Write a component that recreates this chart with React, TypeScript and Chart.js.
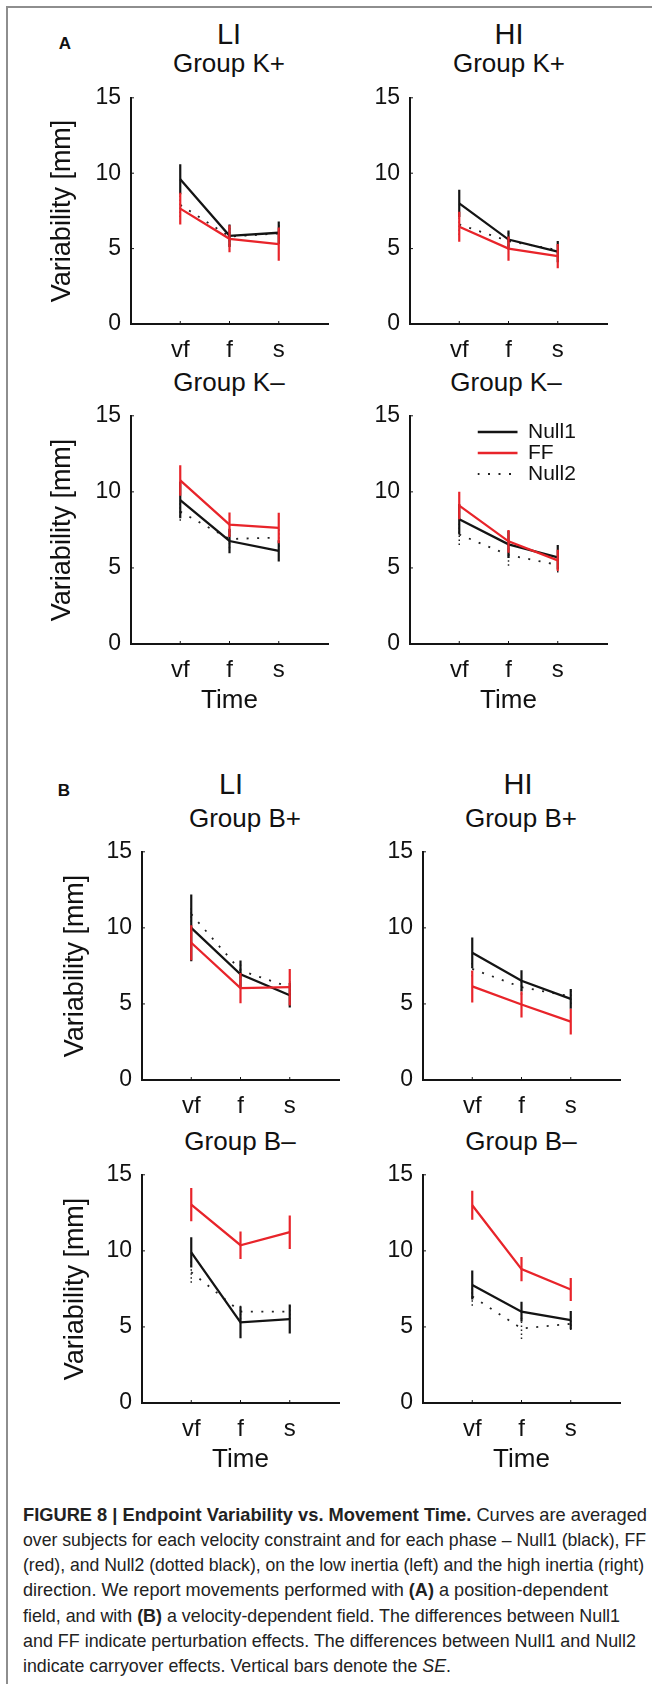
import React, { useEffect, useLayoutEffect, useRef } from 'react';
import { Chart, registerables } from 'chart.js';

Chart.register(...registerables);
Chart.defaults.font.family = "'Liberation Sans', Arial, Helvetica, sans-serif";
Chart.defaults.color = '#111';

// ---------- shared categories / ticks ----------
const PHASES = ['vf', 'f', 's'];
const PHASE_POS = [1, 2, 3];
const X_MIN = 0;
const X_MAX = 4;
const Y_TICKS = [0, 5, 10, 15];
const SERIES_NAMES = ['Null1', 'FF', 'Null2'];

// ---------- (A) position-dependent field ----------
// LI, Group K+
const A_KP_LI_NULL1 = [9.6, 5.85, 6.05];
const A_KP_LI_NULL1_SE = [1.0, 0.75, 0.75];
const A_KP_LI_FF = [7.65, 5.65, 5.3];
const A_KP_LI_FF_SE = [1.05, 0.9, 1.1];
const A_KP_LI_NULL2 = [7.9, 5.8, 6.0];
const A_KP_LI_NULL2_SE = [0.8, 0.6, 0.6];
// HI, Group K+
const A_KP_HI_NULL1 = [8.0, 5.6, 4.8];
const A_KP_HI_NULL1_SE = [0.9, 0.6, 0.7];
const A_KP_HI_FF = [6.45, 5.0, 4.5];
const A_KP_HI_FF_SE = [1.0, 0.8, 0.8];
const A_KP_HI_NULL2 = [6.6, 5.5, 4.9];
const A_KP_HI_NULL2_SE = [0.7, 0.6, 0.5];
// LI, Group K-
const A_KM_LI_NULL1 = [9.46, 6.77, 6.12];
const A_KM_LI_NULL1_SE = [1.2, 0.8, 0.7];
const A_KM_LI_FF = [10.75, 7.84, 7.63];
const A_KM_LI_FF_SE = [1.0, 0.8, 1.0];
const A_KM_LI_NULL2 = [8.7, 6.9, 7.0];
const A_KM_LI_NULL2_SE = [0.6, 0.6, 0.6];
// HI, Group K-
const A_KM_HI_NULL1 = [8.2, 6.55, 5.7];
const A_KM_HI_NULL1_SE = [1.0, 0.9, 0.8];
const A_KM_HI_FF = [9.1, 6.75, 5.5];
const A_KM_HI_FF_SE = [0.9, 0.75, 0.7];
const A_KM_HI_NULL2 = [7.2, 5.85, 5.2];
const A_KM_HI_NULL2_SE = [0.7, 0.7, 0.5];

// ---------- (B) velocity-dependent field ----------
// LI, Group B+
const B_BP_LI_NULL1 = [10.0, 6.95, 5.57];
const B_BP_LI_NULL1_SE = [2.2, 0.9, 0.8];
const B_BP_LI_FF = [9.02, 6.04, 6.1];
const B_BP_LI_FF_SE = [1.15, 1.0, 1.2];
const B_BP_LI_NULL2 = [10.9, 7.2, 6.1];
const B_BP_LI_NULL2_SE = [0.5, 0.5, 0.5];
// HI, Group B+
const B_BP_HI_NULL1 = [8.37, 6.52, 5.33];
const B_BP_HI_NULL1_SE = [1.0, 0.7, 0.65];
const B_BP_HI_FF = [6.15, 4.96, 3.84];
const B_BP_HI_FF_SE = [1.05, 0.85, 0.85];
const B_BP_HI_NULL2 = [7.3, 6.1, 5.5];
const B_BP_HI_NULL2_SE = [0.5, 0.5, 0.5];
// LI, Group B-
const B_BM_LI_NULL1 = [9.9, 5.3, 5.52];
const B_BM_LI_NULL1_SE = [1.0, 1.05, 0.95];
const B_BM_LI_FF = [13.04, 10.37, 11.23];
const B_BM_LI_FF_SE = [1.1, 0.9, 1.1];
const B_BM_LI_NULL2 = [8.6, 6.0, 6.0];
const B_BM_LI_NULL2_SE = [0.7, 0.5, 0.5];
// HI, Group B-
const B_BM_HI_NULL1 = [7.76, 6.0, 5.45];
const B_BM_HI_NULL1_SE = [0.95, 0.65, 0.6];
const B_BM_HI_FF = [13.0, 8.8, 7.46];
const B_BM_HI_FF_SE = [0.95, 0.8, 0.75];
const B_BM_HI_NULL2 = [7.0, 4.9, 5.2];
const B_BM_HI_NULL2_SE = [0.6, 0.7, 0.4];

// ---------- styles ----------
const BLACK = '#141414';
const RED = '#e8242a';
const DOT = '#222';
const TEXT = '#111';
const FONT = "'Liberation Sans', Arial, Helvetica, sans-serif";

// ---------- layout (pixel boxes of each axes) ----------
const PLOT_W = 197;
const YW = 100; // reserved width for y scale (ticks + title)
const PT = 20; // top padding
const PR = 15; // right padding

type Panel = {
  key: string;
  left: number; top: number; bottom: number;
  yTitle: boolean; xTitle: boolean; yTitlePad: number;
  legend?: { x: number; y: number };
  series: number[][]; // [null1, null1Se, ff, ffSe, null2, null2Se]
};

const PANELS: Panel[] = [
  { key: 'a1', left: 131, top: 94, bottom: 324, yTitle: true, xTitle: false, yTitlePad: 15,
    series: [A_KP_LI_NULL1, A_KP_LI_NULL1_SE, A_KP_LI_FF, A_KP_LI_FF_SE, A_KP_LI_NULL2, A_KP_LI_NULL2_SE] },
  { key: 'a2', left: 410, top: 94, bottom: 324, yTitle: false, xTitle: false, yTitlePad: 15,
    series: [A_KP_HI_NULL1, A_KP_HI_NULL1_SE, A_KP_HI_FF, A_KP_HI_FF_SE, A_KP_HI_NULL2, A_KP_HI_NULL2_SE] },
  { key: 'a3', left: 131, top: 412, bottom: 644, yTitle: true, xTitle: true, yTitlePad: 15,
    series: [A_KM_LI_NULL1, A_KM_LI_NULL1_SE, A_KM_LI_FF, A_KM_LI_FF_SE, A_KM_LI_NULL2, A_KM_LI_NULL2_SE] },
  { key: 'a4', left: 410, top: 412, bottom: 644, yTitle: false, xTitle: true, yTitlePad: 15,
    legend: { x: 477.5, y: 421.5 },
    series: [A_KM_HI_NULL1, A_KM_HI_NULL1_SE, A_KM_HI_FF, A_KM_HI_FF_SE, A_KM_HI_NULL2, A_KM_HI_NULL2_SE] },
  { key: 'b1', left: 142, top: 848, bottom: 1080, yTitle: true, xTitle: false, yTitlePad: 17,
    series: [B_BP_LI_NULL1, B_BP_LI_NULL1_SE, B_BP_LI_FF, B_BP_LI_FF_SE, B_BP_LI_NULL2, B_BP_LI_NULL2_SE] },
  { key: 'b2', left: 423, top: 848, bottom: 1080, yTitle: false, xTitle: false, yTitlePad: 17,
    series: [B_BP_HI_NULL1, B_BP_HI_NULL1_SE, B_BP_HI_FF, B_BP_HI_FF_SE, B_BP_HI_NULL2, B_BP_HI_NULL2_SE] },
  { key: 'b3', left: 142, top: 1171, bottom: 1403, yTitle: true, xTitle: true, yTitlePad: 17,
    series: [B_BM_LI_NULL1, B_BM_LI_NULL1_SE, B_BM_LI_FF, B_BM_LI_FF_SE, B_BM_LI_NULL2, B_BM_LI_NULL2_SE] },
  { key: 'b4', left: 423, top: 1171, bottom: 1403, yTitle: false, xTitle: true, yTitlePad: 17,
    series: [B_BM_HI_NULL1, B_BM_HI_NULL1_SE, B_BM_HI_FF, B_BM_HI_FF_SE, B_BM_HI_NULL2, B_BM_HI_NULL2_SE] },
];

const TITLES = [
  { text: 'LI', x: 229, y: 34, size: 29 },
  { text: 'Group K+', x: 229, y: 63, size: 26 },
  { text: 'HI', x: 509, y: 34, size: 29 },
  { text: 'Group K+', x: 509, y: 63, size: 26 },
  { text: 'Group K\u2013', x: 229, y: 382, size: 26 },
  { text: 'Group K\u2013', x: 506, y: 382, size: 26 },
  { text: 'LI', x: 231, y: 784, size: 29 },
  { text: 'Group B+', x: 245, y: 818, size: 26 },
  { text: 'HI', x: 518, y: 784, size: 29 },
  { text: 'Group B+', x: 521, y: 818, size: 26 },
  { text: 'Group B\u2013', x: 240, y: 1141, size: 26 },
  { text: 'Group B\u2013', x: 521, y: 1141, size: 26 },
];

const innerTicks = {
  id: 'innerTicks',
  beforeDatasetsDraw(chart: any) {
    const { ctx, chartArea, scales } = chart;
    const x = scales.x;
    const y = scales.y;
    ctx.save();
    ctx.strokeStyle = BLACK;
    ctx.lineWidth = 1;
    ctx.beginPath();
    for (const t of x.ticks) {
      const px = x.getPixelForValue(t.value);
      ctx.moveTo(px, chartArea.bottom);
      ctx.lineTo(px, chartArea.bottom - 3);
    }
    for (const t of y.ticks) {
      const py = y.getPixelForValue(t.value);
      ctx.moveTo(chartArea.left, py);
      ctx.lineTo(chartArea.left + 3, py);
    }
    ctx.stroke();
    ctx.restore();
  },
};

const legendPlacer = {
  id: 'legendPlacer',
  afterLayout(chart: any, _args: any, opts: any) {
    const lg = chart.legend;
    if (!lg || !opts || opts.x == null) return;
    lg.left = opts.x;
    lg.top = opts.y;
    lg.right = lg.left + lg.width;
    lg.bottom = chart.chartArea.bottom;
  },
};

function PanelChart({ p }: { p: Panel }) {
  const ref = useRef<HTMLCanvasElement>(null);
  const XH = p.xTitle ? 90 : 45;
  const plotH = p.bottom - p.top;
  const W = YW + PLOT_W + PR;
  const H = PT + plotH + XH;
  const canvasLeft = p.left - YW;
  const canvasTop = p.top - PT;

  useEffect(() => {
    const [n1, n1se, ff, ffse, n2, n2se] = p.series;
    const pts = (m: number[]) => m.map((v, i) => ({ x: PHASE_POS[i], y: v }));
    const bars = (m: number[], se: number[]) =>
      m.flatMap((v, i) => [
        { x: PHASE_POS[i], y: v - se[i] },
        { x: PHASE_POS[i], y: v + se[i] },
        { x: PHASE_POS[i], y: null },
      ]);
    const base = {
      type: 'line',
      pointRadius: 0,
      pointHoverRadius: 0,
      pointHitRadius: 0,
      pointStyle: 'line',
      tension: 0,
      fill: false,
      spanGaps: false,
    };
    const datasets: any[] = [
      { ...base, label: SERIES_NAMES[0], data: pts(n1), borderColor: BLACK, backgroundColor: BLACK, borderWidth: 2.3, order: 2 },
      { ...base, label: SERIES_NAMES[1], data: pts(ff), borderColor: RED, backgroundColor: RED, borderWidth: 2.3, order: 0 },
      { ...base, label: SERIES_NAMES[2], data: pts(n2), borderColor: DOT, backgroundColor: DOT, borderWidth: 1.8, borderDash: [2, 8.5], order: 4 },
      { ...base, label: 'Null1 SE', data: bars(n1, n1se), borderColor: BLACK, backgroundColor: BLACK, borderWidth: 2.2, order: 3 },
      { ...base, label: 'FF SE', data: bars(ff, ffse), borderColor: RED, backgroundColor: RED, borderWidth: 2.2, order: 1 },
      { ...base, label: 'Null2 SE', data: bars(n2, n2se), borderColor: DOT, backgroundColor: DOT, borderWidth: 1.5, borderDash: [1.5, 2.5], order: 5 },
    ];

    const legendOpts = p.legend
      ? {
          display: true,
          position: 'chartArea',
          align: 'start',
          labels: {
            usePointStyle: true,
            pointStyle: 'line',
            pointStyleWidth: 40,
            boxHeight: 10,
            padding: 0,
            color: TEXT,
            font: { size: 21, family: FONT },
            generateLabels: (chart: any) =>
              (Chart.defaults.plugins.legend.labels as any)
                .generateLabels(chart)
                .filter((it: any) => it.datasetIndex < 3)
                .sort((a: any, b: any) => a.datasetIndex - b.datasetIndex)
                .map((it: any) => {
                  const ds = chart.data.datasets[it.datasetIndex];
                  return {
                    ...it,
                    lineWidth: it.datasetIndex === 2 ? 1.8 : 2.6,
                    lineDash: ds.borderDash || [],
                    strokeStyle: ds.borderColor,
                    fillStyle: ds.borderColor,
                  };
                }),
          },
        }
      : { display: false };

    const chart = new Chart(ref.current as HTMLCanvasElement, {
      type: 'line',
      data: { datasets },
      plugins: [innerTicks, legendPlacer],
      options: {
        responsive: false,
        animation: false,
        devicePixelRatio: 1,
        events: [],
        layout: { padding: { top: PT, right: PR, left: 0, bottom: 0 } },
        plugins: {
          legend: legendOpts as any,
          tooltip: { enabled: false },
          title: { display: false },
          legendPlacer: p.legend ? { x: p.legend.x - canvasLeft, y: p.legend.y - canvasTop } : {},
        } as any,
        scales: {
          x: {
            type: 'linear',
            min: X_MIN,
            max: X_MAX,
            grid: { display: false, drawTicks: false },
            border: { display: true, color: BLACK, width: 2 },
            afterBuildTicks: (s: any) => {
              s.ticks = PHASE_POS.map((v) => ({ value: v }));
            },
            afterFit: (s: any) => {
              s.height = XH;
            },
            ticks: {
              padding: 12,
              color: TEXT,
              font: { size: 24, family: FONT },
              maxRotation: 0,
              autoSkip: false,
              callback: (v: any) => {
                const i = PHASE_POS.indexOf(Number(v));
                return i >= 0 ? PHASES[i] : '';
              },
            },
            title: p.xTitle
              ? { display: true, text: 'Time', color: TEXT, font: { size: 26, family: FONT }, padding: { top: 0, bottom: 18 } }
              : { display: false },
          },
          y: {
            type: 'linear',
            min: Y_TICKS[0],
            max: Y_TICKS[Y_TICKS.length - 1],
            grid: { display: false, drawTicks: false },
            border: { display: true, color: BLACK, width: 2 },
            afterBuildTicks: (s: any) => {
              s.ticks = Y_TICKS.map((v) => ({ value: v }));
            },
            afterFit: (s: any) => {
              s.width = YW;
            },
            ticks: { padding: 10, color: TEXT, font: { size: 23, family: FONT } },
            title: p.yTitle
              ? { display: true, text: 'Variability [mm]', color: TEXT, font: { size: 27, family: FONT }, padding: { top: p.yTitlePad, bottom: 0 } }
              : { display: false },
          },
        } as any,
      },
    } as any);
    return () => chart.destroy();
  }, []);

  return (
    <canvas
      ref={ref}
      width={W}
      height={H}
      style={{ position: 'absolute', left: canvasLeft, top: canvasTop, width: W, height: H }}
    />
  );
}

const CAPTION_LINES: React.ReactNode[] = [
  <>
    <b>FIGURE 8 | Endpoint Variability vs. Movement Time.</b> Curves are averaged
  </>,
  <>over subjects for each velocity constraint and for each phase – Null1 (black), FF</>,
  <>(red), and Null2 (dotted black), on the low inertia (left) and the high inertia (right)</>,
  <>
    direction. We report movements performed with <b>(A)</b> a position-dependent
  </>,
  <>
    field, and with <b>(B)</b> a velocity-dependent field. The differences between Null1
  </>,
  <>and FF indicate perturbation effects. The differences between Null1 and Null2</>,
  <>
    indicate carryover effects. Vertical bars denote the <i>SE</i>.
  </>,
];
const CAPTION_LEFT = 23;
const CAPTION_RIGHT = [647, 646, 644, 608, 620, 636, 451];
const CAPTION_Y = [1515, 1540, 1565, 1590, 1616, 1641, 1666];

function Caption() {
  const refs = useRef<(HTMLDivElement | null)[]>([]);
  useLayoutEffect(() => {
    const fit = () => {
      refs.current.forEach((el, i) => {
        if (!el) return;
        el.style.transform = 'translateY(-50%)';
        const w = el.getBoundingClientRect().width;
        if (w > 0) {
          const s = (CAPTION_RIGHT[i] - CAPTION_LEFT) / w;
          el.style.transform = `translateY(-50%) scaleX(${s})`;
        }
      });
    };
    fit();
    if ((document as any).fonts && (document as any).fonts.ready) {
      (document as any).fonts.ready.then(fit);
    }
  }, []);
  return (
    <>
      {CAPTION_LINES.map((l, i) => (
        <div
          key={i}
          ref={(el) => {
            refs.current[i] = el;
          }}
          style={{
            position: 'absolute',
            left: CAPTION_LEFT,
            top: CAPTION_Y[i],
            fontFamily: FONT,
            fontSize: 18.5,
            lineHeight: 1,
            color: '#222',
            whiteSpace: 'nowrap',
            transformOrigin: 'left center',
            transform: 'translateY(-50%)',
          }}
        >
          {l}
        </div>
      ))}
    </>
  );
}

export default function App() {
  return (
    <div
      style={{
        position: 'absolute',
        left: 0,
        top: 0,
        width: 652,
        height: 1684,
        overflow: 'hidden',
        background: '#fff',
        fontFamily: FONT,
        color: TEXT,
      }}
    >
      <div
        style={{
          position: 'absolute',
          left: 6,
          top: 6,
          width: 700,
          height: 1700,
          borderLeft: '2px solid #8e8e8e',
          borderTop: '2px solid #8e8e8e',
        }}
      />
      <div style={{ position: 'absolute', left: 65, top: 43, transform: 'translate(-50%,-50%)', fontWeight: 'bold', fontSize: 17, lineHeight: 1 }}>A</div>
      <div style={{ position: 'absolute', left: 64, top: 790, transform: 'translate(-50%,-50%)', fontWeight: 'bold', fontSize: 17, lineHeight: 1 }}>B</div>
      {TITLES.map((t, i) => (
        <div
          key={i}
          style={{
            position: 'absolute',
            left: t.x,
            top: t.y,
            transform: 'translate(-50%,-50%)',
            fontSize: t.size,
            lineHeight: 1,
            whiteSpace: 'nowrap',
          }}
        >
          {t.text}
        </div>
      ))}
      {PANELS.map((p) => (
        <PanelChart key={p.key} p={p} />
      ))}
      <Caption />
    </div>
  );
}
